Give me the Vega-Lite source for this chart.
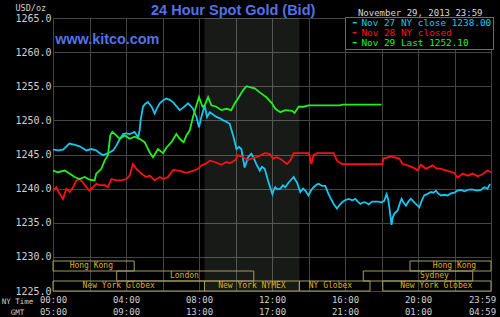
{
  "$schema": "https://vega.github.io/schema/vega-lite/v6.json",
  "width": 438,
  "height": 273,
  "autosize": {"type": "none"},
  "padding": {"left": 53, "top": 18, "right": 9, "bottom": 26},
  "background": "#000000",
  "config": {"view": {"stroke": null}},
  "title": {
    "text": "24 Hour Spot Gold (Bid)",
    "anchor": "start",
    "frame": "group",
    "dx": 98,
    "dy": 26,
    "offset": 0,
    "baseline": "alphabetic",
    "font": "Liberation Sans",
    "fontSize": 14.5,
    "fontWeight": "bold",
    "color": "#5272e6"
  },
  "datasets": {
    "prices": [
      {"series": "Nov 27", "hour": 0.0, "price": 1245.7},
      {"series": "Nov 27", "hour": 0.3, "price": 1245.6},
      {"series": "Nov 27", "hour": 0.55, "price": 1245.7},
      {"series": "Nov 27", "hour": 0.9, "price": 1246.6},
      {"series": "Nov 27", "hour": 1.2, "price": 1246.4},
      {"series": "Nov 27", "hour": 1.46, "price": 1246.2},
      {"series": "Nov 27", "hour": 1.83, "price": 1245.6},
      {"series": "Nov 27", "hour": 2.1, "price": 1245.8},
      {"series": "Nov 27", "hour": 2.37, "price": 1245.6},
      {"series": "Nov 27", "hour": 2.56, "price": 1245.2},
      {"series": "Nov 27", "hour": 2.75, "price": 1244.9},
      {"series": "Nov 27", "hour": 3.1, "price": 1245.3},
      {"series": "Nov 27", "hour": 3.3, "price": 1245.6},
      {"series": "Nov 27", "hour": 3.47, "price": 1246.3},
      {"series": "Nov 27", "hour": 3.65, "price": 1247.2},
      {"series": "Nov 27", "hour": 3.84, "price": 1248.0},
      {"series": "Nov 27", "hour": 4.0, "price": 1248.1},
      {"series": "Nov 27", "hour": 4.2, "price": 1248.0},
      {"series": "Nov 27", "hour": 4.47, "price": 1248.3},
      {"series": "Nov 27", "hour": 4.66, "price": 1247.5},
      {"series": "Nov 27", "hour": 4.75, "price": 1248.6},
      {"series": "Nov 27", "hour": 4.8, "price": 1250.0},
      {"series": "Nov 27", "hour": 4.93, "price": 1252.0},
      {"series": "Nov 27", "hour": 5.05, "price": 1252.4},
      {"series": "Nov 27", "hour": 5.2, "price": 1252.7},
      {"series": "Nov 27", "hour": 5.4, "price": 1252.0},
      {"series": "Nov 27", "hour": 5.57, "price": 1251.0},
      {"series": "Nov 27", "hour": 5.7, "price": 1251.8},
      {"series": "Nov 27", "hour": 5.85, "price": 1252.5},
      {"series": "Nov 27", "hour": 6.03, "price": 1252.9},
      {"series": "Nov 27", "hour": 6.2, "price": 1253.2},
      {"series": "Nov 27", "hour": 6.4, "price": 1253.0},
      {"series": "Nov 27", "hour": 6.6, "price": 1252.6},
      {"series": "Nov 27", "hour": 6.94, "price": 1251.5},
      {"series": "Nov 27", "hour": 7.15, "price": 1251.9},
      {"series": "Nov 27", "hour": 7.4, "price": 1252.5},
      {"series": "Nov 27", "hour": 7.55, "price": 1252.1},
      {"series": "Nov 27", "hour": 7.67, "price": 1251.7},
      {"series": "Nov 27", "hour": 7.86, "price": 1250.5},
      {"series": "Nov 27", "hour": 8.0, "price": 1249.0},
      {"series": "Nov 27", "hour": 8.13, "price": 1250.5},
      {"series": "Nov 27", "hour": 8.31, "price": 1252.2},
      {"series": "Nov 27", "hour": 8.44, "price": 1250.5},
      {"series": "Nov 27", "hour": 8.59, "price": 1251.2},
      {"series": "Nov 27", "hour": 8.75, "price": 1250.9},
      {"series": "Nov 27", "hour": 8.95, "price": 1250.5},
      {"series": "Nov 27", "hour": 9.15, "price": 1250.3},
      {"series": "Nov 27", "hour": 9.32, "price": 1250.0},
      {"series": "Nov 27", "hour": 9.5, "price": 1249.8},
      {"series": "Nov 27", "hour": 9.68, "price": 1249.5},
      {"series": "Nov 27", "hour": 9.87, "price": 1247.8},
      {"series": "Nov 27", "hour": 10.05, "price": 1245.8},
      {"series": "Nov 27", "hour": 10.2, "price": 1246.1},
      {"series": "Nov 27", "hour": 10.32, "price": 1245.8},
      {"series": "Nov 27", "hour": 10.5, "price": 1243.1},
      {"series": "Nov 27", "hour": 10.69, "price": 1244.6},
      {"series": "Nov 27", "hour": 10.87, "price": 1245.1},
      {"series": "Nov 27", "hour": 11.0, "price": 1244.5},
      {"series": "Nov 27", "hour": 11.14, "price": 1243.6},
      {"series": "Nov 27", "hour": 11.33, "price": 1242.65},
      {"series": "Nov 27", "hour": 11.45, "price": 1243.2},
      {"series": "Nov 27", "hour": 11.6, "price": 1242.9},
      {"series": "Nov 27", "hour": 11.78, "price": 1241.2},
      {"series": "Nov 27", "hour": 11.9, "price": 1240.2},
      {"series": "Nov 27", "hour": 12.02, "price": 1239.2},
      {"series": "Nov 27", "hour": 12.1, "price": 1239.8},
      {"series": "Nov 27", "hour": 12.18, "price": 1240.2},
      {"series": "Nov 27", "hour": 12.3, "price": 1239.9},
      {"series": "Nov 27", "hour": 12.46, "price": 1240.0},
      {"series": "Nov 27", "hour": 12.6, "price": 1240.5},
      {"series": "Nov 27", "hour": 12.73, "price": 1240.2},
      {"series": "Nov 27", "hour": 12.91, "price": 1240.9},
      {"series": "Nov 27", "hour": 13.05, "price": 1241.3},
      {"series": "Nov 27", "hour": 13.19, "price": 1241.7},
      {"series": "Nov 27", "hour": 13.3, "price": 1241.2},
      {"series": "Nov 27", "hour": 13.37, "price": 1240.9},
      {"series": "Nov 27", "hour": 13.55, "price": 1239.5},
      {"series": "Nov 27", "hour": 13.7, "price": 1240.0},
      {"series": "Nov 27", "hour": 13.83, "price": 1239.7},
      {"series": "Nov 27", "hour": 14.0, "price": 1239.0},
      {"series": "Nov 27", "hour": 14.15, "price": 1239.8},
      {"series": "Nov 27", "hour": 14.28, "price": 1240.2},
      {"series": "Nov 27", "hour": 14.45, "price": 1240.6},
      {"series": "Nov 27", "hour": 14.56, "price": 1240.7},
      {"series": "Nov 27", "hour": 14.74, "price": 1240.4},
      {"series": "Nov 27", "hour": 14.92, "price": 1240.4},
      {"series": "Nov 27", "hour": 15.1, "price": 1239.2},
      {"series": "Nov 27", "hour": 15.25, "price": 1238.4},
      {"series": "Nov 27", "hour": 15.38, "price": 1237.75},
      {"series": "Nov 27", "hour": 15.56, "price": 1237.1},
      {"series": "Nov 27", "hour": 15.7, "price": 1237.6},
      {"series": "Nov 27", "hour": 15.84, "price": 1238.0},
      {"series": "Nov 27", "hour": 16.0, "price": 1238.3},
      {"series": "Nov 27", "hour": 16.2, "price": 1238.5},
      {"series": "Nov 27", "hour": 16.4, "price": 1238.3},
      {"series": "Nov 27", "hour": 16.57, "price": 1238.5},
      {"series": "Nov 27", "hour": 16.7, "price": 1238.1},
      {"series": "Nov 27", "hour": 16.84, "price": 1237.75},
      {"series": "Nov 27", "hour": 17.0, "price": 1238.0},
      {"series": "Nov 27", "hour": 17.11, "price": 1238.0},
      {"series": "Nov 27", "hour": 17.3, "price": 1237.7},
      {"series": "Nov 27", "hour": 17.48, "price": 1238.1},
      {"series": "Nov 27", "hour": 17.8, "price": 1238.1},
      {"series": "Nov 27", "hour": 18.0, "price": 1238.0},
      {"series": "Nov 27", "hour": 18.15, "price": 1238.2},
      {"series": "Nov 27", "hour": 18.28, "price": 1239.2},
      {"series": "Nov 27", "hour": 18.36, "price": 1238.5},
      {"series": "Nov 27", "hour": 18.43, "price": 1237.25},
      {"series": "Nov 27", "hour": 18.55, "price": 1234.7},
      {"series": "Nov 27", "hour": 18.62, "price": 1235.8},
      {"series": "Nov 27", "hour": 18.7, "price": 1236.3},
      {"series": "Nov 27", "hour": 18.88, "price": 1236.8},
      {"series": "Nov 27", "hour": 19.0, "price": 1237.8},
      {"series": "Nov 27", "hour": 19.1, "price": 1238.5},
      {"series": "Nov 27", "hour": 19.2, "price": 1238.0},
      {"series": "Nov 27", "hour": 19.34, "price": 1237.5},
      {"series": "Nov 27", "hour": 19.5, "price": 1238.2},
      {"series": "Nov 27", "hour": 19.61, "price": 1238.5},
      {"series": "Nov 27", "hour": 19.8, "price": 1238.0},
      {"series": "Nov 27", "hour": 19.95, "price": 1237.6},
      {"series": "Nov 27", "hour": 20.07, "price": 1237.25},
      {"series": "Nov 27", "hour": 20.2, "price": 1238.2},
      {"series": "Nov 27", "hour": 20.34, "price": 1239.0},
      {"series": "Nov 27", "hour": 20.5, "price": 1239.2},
      {"series": "Nov 27", "hour": 20.71, "price": 1239.5},
      {"series": "Nov 27", "hour": 20.85, "price": 1239.4},
      {"series": "Nov 27", "hour": 20.98, "price": 1239.7},
      {"series": "Nov 27", "hour": 21.1, "price": 1239.3},
      {"series": "Nov 27", "hour": 21.26, "price": 1239.0},
      {"series": "Nov 27", "hour": 21.45, "price": 1239.1},
      {"series": "Nov 27", "hour": 21.62, "price": 1239.0},
      {"series": "Nov 27", "hour": 21.8, "price": 1239.3},
      {"series": "Nov 27", "hour": 21.99, "price": 1239.4},
      {"series": "Nov 27", "hour": 22.15, "price": 1239.7},
      {"series": "Nov 27", "hour": 22.35, "price": 1239.8},
      {"series": "Nov 27", "hour": 22.55, "price": 1239.6},
      {"series": "Nov 27", "hour": 22.72, "price": 1239.8},
      {"series": "Nov 27", "hour": 22.9, "price": 1239.9},
      {"series": "Nov 27", "hour": 23.08, "price": 1239.8},
      {"series": "Nov 27", "hour": 23.25, "price": 1239.7},
      {"series": "Nov 27", "hour": 23.45, "price": 1239.8},
      {"series": "Nov 27", "hour": 23.63, "price": 1240.2},
      {"series": "Nov 27", "hour": 23.81, "price": 1240.0},
      {"series": "Nov 27", "hour": 23.95, "price": 1240.7},
      {"series": "Nov 28", "hour": 0.0, "price": 1239.7},
      {"series": "Nov 28", "hour": 0.18, "price": 1240.2},
      {"series": "Nov 28", "hour": 0.37, "price": 1239.2},
      {"series": "Nov 28", "hour": 0.55, "price": 1238.5},
      {"series": "Nov 28", "hour": 0.73, "price": 1240.0},
      {"series": "Nov 28", "hour": 0.91, "price": 1239.5},
      {"series": "Nov 28", "hour": 1.1, "price": 1240.2},
      {"series": "Nov 28", "hour": 1.28, "price": 1241.2},
      {"series": "Nov 28", "hour": 1.46, "price": 1241.4},
      {"series": "Nov 28", "hour": 1.64, "price": 1240.9},
      {"series": "Nov 28", "hour": 1.83, "price": 1240.2},
      {"series": "Nov 28", "hour": 2.0, "price": 1239.7},
      {"series": "Nov 28", "hour": 2.19, "price": 1240.2},
      {"series": "Nov 28", "hour": 2.37, "price": 1240.7},
      {"series": "Nov 28", "hour": 2.56, "price": 1240.5},
      {"series": "Nov 28", "hour": 2.83, "price": 1240.5},
      {"series": "Nov 28", "hour": 3.01, "price": 1240.2},
      {"series": "Nov 28", "hour": 3.2, "price": 1241.4},
      {"series": "Nov 28", "hour": 3.47, "price": 1241.2},
      {"series": "Nov 28", "hour": 3.74, "price": 1241.2},
      {"series": "Nov 28", "hour": 4.02, "price": 1241.4},
      {"series": "Nov 28", "hour": 4.2, "price": 1241.9},
      {"series": "Nov 28", "hour": 4.38, "price": 1243.6},
      {"series": "Nov 28", "hour": 4.57, "price": 1242.9},
      {"series": "Nov 28", "hour": 4.84, "price": 1242.2},
      {"series": "Nov 28", "hour": 5.11, "price": 1241.7},
      {"series": "Nov 28", "hour": 5.3, "price": 1241.9},
      {"series": "Nov 28", "hour": 5.57, "price": 1241.2},
      {"series": "Nov 28", "hour": 5.85, "price": 1241.7},
      {"series": "Nov 28", "hour": 6.03, "price": 1241.4},
      {"series": "Nov 28", "hour": 6.3, "price": 1241.7},
      {"series": "Nov 28", "hour": 6.58, "price": 1242.75},
      {"series": "Nov 28", "hour": 6.94, "price": 1242.6},
      {"series": "Nov 28", "hour": 7.31, "price": 1242.3},
      {"series": "Nov 28", "hour": 7.67, "price": 1242.6},
      {"series": "Nov 28", "hour": 7.95, "price": 1242.9},
      {"series": "Nov 28", "hour": 8.13, "price": 1243.4},
      {"series": "Nov 28", "hour": 8.4, "price": 1243.7},
      {"series": "Nov 28", "hour": 8.59, "price": 1244.1},
      {"series": "Nov 28", "hour": 8.86, "price": 1243.9},
      {"series": "Nov 28", "hour": 9.23, "price": 1243.5},
      {"series": "Nov 28", "hour": 9.5, "price": 1243.9},
      {"series": "Nov 28", "hour": 9.68, "price": 1243.7},
      {"series": "Nov 28", "hour": 9.96, "price": 1244.1},
      {"series": "Nov 28", "hour": 10.14, "price": 1244.9},
      {"series": "Nov 28", "hour": 10.41, "price": 1244.6},
      {"series": "Nov 28", "hour": 10.69, "price": 1244.2},
      {"series": "Nov 28", "hour": 10.96, "price": 1244.5},
      {"series": "Nov 28", "hour": 11.24, "price": 1244.7},
      {"series": "Nov 28", "hour": 11.6, "price": 1245.2},
      {"series": "Nov 28", "hour": 11.88, "price": 1245.1},
      {"series": "Nov 28", "hour": 12.05, "price": 1244.4},
      {"series": "Nov 28", "hour": 12.27, "price": 1244.6},
      {"series": "Nov 28", "hour": 12.55, "price": 1244.2},
      {"series": "Nov 28", "hour": 12.82, "price": 1243.6},
      {"series": "Nov 28", "hour": 13.0, "price": 1244.1},
      {"series": "Nov 28", "hour": 13.19, "price": 1245.2},
      {"series": "Nov 28", "hour": 14.0, "price": 1245.2},
      {"series": "Nov 28", "hour": 14.08, "price": 1244.6},
      {"series": "Nov 28", "hour": 14.16, "price": 1243.6},
      {"series": "Nov 28", "hour": 14.28, "price": 1244.9},
      {"series": "Nov 28", "hour": 14.47, "price": 1245.2},
      {"series": "Nov 28", "hour": 15.38, "price": 1245.2},
      {"series": "Nov 28", "hour": 15.56, "price": 1244.1},
      {"series": "Nov 28", "hour": 15.84, "price": 1243.6},
      {"series": "Nov 28", "hour": 18.05, "price": 1243.6},
      {"series": "Nov 28", "hour": 18.1, "price": 1244.4},
      {"series": "Nov 28", "hour": 18.52, "price": 1244.7},
      {"series": "Nov 28", "hour": 18.97, "price": 1244.4},
      {"series": "Nov 28", "hour": 19.16, "price": 1243.6},
      {"series": "Nov 28", "hour": 19.43, "price": 1243.4},
      {"series": "Nov 28", "hour": 19.8, "price": 1243.0},
      {"series": "Nov 28", "hour": 19.98, "price": 1242.65},
      {"series": "Nov 28", "hour": 20.16, "price": 1243.5},
      {"series": "Nov 28", "hour": 20.44, "price": 1242.9},
      {"series": "Nov 28", "hour": 20.8, "price": 1243.4},
      {"series": "Nov 28", "hour": 20.98, "price": 1243.0},
      {"series": "Nov 28", "hour": 21.26, "price": 1242.9},
      {"series": "Nov 28", "hour": 21.62, "price": 1242.6},
      {"series": "Nov 28", "hour": 21.99, "price": 1242.3},
      {"series": "Nov 28", "hour": 22.17, "price": 1241.6},
      {"series": "Nov 28", "hour": 22.45, "price": 1242.2},
      {"series": "Nov 28", "hour": 22.72, "price": 1241.9},
      {"series": "Nov 28", "hour": 23.0, "price": 1242.2},
      {"series": "Nov 28", "hour": 23.27, "price": 1241.8},
      {"series": "Nov 28", "hour": 23.54, "price": 1242.1},
      {"series": "Nov 28", "hour": 23.81, "price": 1242.65},
      {"series": "Nov 28", "hour": 24.0, "price": 1242.4},
      {"series": "Nov 29", "hour": 0.0, "price": 1242.65},
      {"series": "Nov 29", "hour": 0.27, "price": 1242.4},
      {"series": "Nov 29", "hour": 0.64, "price": 1242.65},
      {"series": "Nov 29", "hour": 0.91, "price": 1242.2},
      {"series": "Nov 29", "hour": 1.19, "price": 1241.7},
      {"series": "Nov 29", "hour": 1.46, "price": 1241.4},
      {"series": "Nov 29", "hour": 1.74, "price": 1241.7},
      {"series": "Nov 29", "hour": 2.0, "price": 1241.3},
      {"series": "Nov 29", "hour": 2.28, "price": 1241.2},
      {"series": "Nov 29", "hour": 2.37, "price": 1242.2},
      {"series": "Nov 29", "hour": 2.65, "price": 1242.9},
      {"series": "Nov 29", "hour": 2.83, "price": 1244.1},
      {"series": "Nov 29", "hour": 3.01, "price": 1244.9},
      {"series": "Nov 29", "hour": 3.14, "price": 1247.8},
      {"series": "Nov 29", "hour": 3.25, "price": 1248.3},
      {"series": "Nov 29", "hour": 3.47, "price": 1247.8},
      {"series": "Nov 29", "hour": 3.65, "price": 1247.3},
      {"series": "Nov 29", "hour": 3.93, "price": 1247.8},
      {"series": "Nov 29", "hour": 4.2, "price": 1247.3},
      {"series": "Nov 29", "hour": 4.47, "price": 1247.6},
      {"series": "Nov 29", "hour": 4.75, "price": 1247.3},
      {"series": "Nov 29", "hour": 5.02, "price": 1246.8},
      {"series": "Nov 29", "hour": 5.3, "price": 1245.3},
      {"series": "Nov 29", "hour": 5.48, "price": 1244.6},
      {"series": "Nov 29", "hour": 5.75, "price": 1245.8},
      {"series": "Nov 29", "hour": 6.03, "price": 1245.2},
      {"series": "Nov 29", "hour": 6.21, "price": 1246.0},
      {"series": "Nov 29", "hour": 6.49, "price": 1246.8},
      {"series": "Nov 29", "hour": 6.76, "price": 1248.0},
      {"series": "Nov 29", "hour": 6.94, "price": 1247.3},
      {"series": "Nov 29", "hour": 7.16, "price": 1246.8},
      {"series": "Nov 29", "hour": 7.31, "price": 1247.8},
      {"series": "Nov 29", "hour": 7.49, "price": 1248.5},
      {"series": "Nov 29", "hour": 7.67, "price": 1250.5},
      {"series": "Nov 29", "hour": 7.86, "price": 1252.2},
      {"series": "Nov 29", "hour": 8.0, "price": 1253.4},
      {"series": "Nov 29", "hour": 8.19, "price": 1252.0},
      {"series": "Nov 29", "hour": 8.31, "price": 1252.2},
      {"series": "Nov 29", "hour": 8.5, "price": 1253.4},
      {"series": "Nov 29", "hour": 8.68, "price": 1252.2},
      {"series": "Nov 29", "hour": 8.95, "price": 1252.0},
      {"series": "Nov 29", "hour": 9.23, "price": 1251.5},
      {"series": "Nov 29", "hour": 9.5, "price": 1251.7},
      {"series": "Nov 29", "hour": 9.77, "price": 1251.5},
      {"series": "Nov 29", "hour": 9.96, "price": 1252.5},
      {"series": "Nov 29", "hour": 10.14, "price": 1253.2},
      {"series": "Nov 29", "hour": 10.41, "price": 1254.4},
      {"series": "Nov 29", "hour": 10.6, "price": 1255.0},
      {"series": "Nov 29", "hour": 10.87, "price": 1254.8},
      {"series": "Nov 29", "hour": 11.05, "price": 1254.7},
      {"series": "Nov 29", "hour": 11.33, "price": 1254.1},
      {"series": "Nov 29", "hour": 11.69, "price": 1253.4},
      {"series": "Nov 29", "hour": 12.0, "price": 1252.5},
      {"series": "Nov 29", "hour": 12.18, "price": 1251.7},
      {"series": "Nov 29", "hour": 12.46, "price": 1251.2},
      {"series": "Nov 29", "hour": 12.73, "price": 1251.5},
      {"series": "Nov 29", "hour": 13.1, "price": 1251.4},
      {"series": "Nov 29", "hour": 13.24, "price": 1251.1},
      {"series": "Nov 29", "hour": 13.46, "price": 1252.0},
      {"series": "Nov 29", "hour": 13.74, "price": 1252.0},
      {"series": "Nov 29", "hour": 14.0, "price": 1252.2},
      {"series": "Nov 29", "hour": 15.74, "price": 1252.2},
      {"series": "Nov 29", "hour": 15.87, "price": 1252.3},
      {"series": "Nov 29", "hour": 18.0, "price": 1252.3}
    ],
    "sessions": [
      {"name": "Hong Kong", "lane": 1, "start": 0, "end": 4.45, "labelAt": 2.1},
      {"name": "Hong Kong", "lane": 1, "start": 19.56, "end": 24, "labelAt": 22.0},
      {"name": "London", "lane": 2, "start": 3.49, "end": 11.0, "labelAt": 7.2},
      {"name": "Sydney", "lane": 2, "start": 17.0, "end": 23.0, "labelAt": 20.9},
      {"name": "New York Globex", "lane": 3, "start": 0, "end": 8.3, "labelAt": 3.6},
      {"name": "New York NYMEX", "lane": 3, "start": 8.3, "end": 13.5, "labelAt": 10.9},
      {"name": "NY Globex", "lane": 3, "start": 13.5, "end": 17.37, "labelAt": 15.2},
      {"name": "New York Globex", "lane": 3, "start": 18.07, "end": 24, "labelAt": 21.0}
    ]
  },
  "layer": [
    {
      "data": {"name": "sessions"},
      "transform": [{"filter": "datum.name == 'New York NYMEX'"}],
      "mark": {"type": "rect", "fill": "#e0ffe0", "fillOpacity": 0.1},
      "encoding": {
        "x": {
          "field": "start",
          "type": "quantitative",
          "scale": {"domain": [0, 24], "nice": false},
          "axis": {
            "orient": "top",
            "title": "November 29, 2013 23:59",
            "labels": false,
            "ticks": false,
            "domain": false,
            "grid": false,
            "titleX": 429,
            "titleY": -3,
            "titleAlign": "right",
            "titleBaseline": "alphabetic",
            "titleFont": "DejaVu Sans Mono",
            "titleFontSize": 9,
            "titleFontWeight": "normal",
            "titleColor": "#d8d8d8"
          }
        },
        "x2": {"field": "end"}
      }
    },
    {
      "data": {"name": "prices"},
      "mark": {"type": "line", "strokeWidth": 1.8, "interpolate": "linear"},
      "encoding": {
        "x": {
          "field": "hour",
          "type": "quantitative",
          "scale": {"domain": [0, 24], "nice": false},
          "axis": {
            "values": [0, 2, 4, 6, 8, 10, 12, 14, 16, 18, 20, 22, 24],
            "labelExpr": "datum.value == 24 ? ['23:59', '04:59'] : datum.value % 4 == 0 ? [(datum.value < 10 ? '0' : '') + datum.value + ':00', ((datum.value + 5) % 24 < 10 ? '0' : '') + ((datum.value + 5) % 24) + ':00'] : ''",
            "grid": true,
            "gridColor": "#444444",
            "ticks": false,
            "domain": false,
            "labelFont": "DejaVu Sans Mono",
            "labelFontSize": 9,
            "labelColor": "#d0d0d0",
            "labelPadding": 4,
            "labelLineHeight": 12,
            "labelBaseline": "top",
            "labelAlign": "center",
            "labelOverlap": false,
            "labelFlush": false,
            "labelOffset": {"condition": {"test": "datum.value == 24", "value": -9}, "value": 0},
            "title": ["NY Time", "GMT"],
            "titleX": -36,
            "titleY": 6,
            "titleAlign": "center",
            "titleBaseline": "top",
            "titleFont": "DejaVu Sans Mono",
            "titleFontSize": 7.5,
            "titleFontWeight": "normal",
            "titleColor": "#d0d0d0",
            "titleLineHeight": 11.5
          }
        },
        "y": {
          "field": "price",
          "type": "quantitative",
          "scale": {"domain": [1225, 1265], "nice": false, "zero": false},
          "axis": {
            "values": [1225, 1230, 1235, 1240, 1245, 1250, 1255, 1260, 1265],
            "format": ".1f",
            "grid": true,
            "gridColor": "#444444",
            "ticks": false,
            "domain": false,
            "labelOverlap": false,
            "labelFont": "DejaVu Sans Mono",
            "labelFontSize": 10,
            "labelColor": "#d0d0d0",
            "labelPadding": 2,
            "title": "USD/oz",
            "titleAngle": 0,
            "titleX": -38,
            "titleY": -11,
            "titleAlign": "left",
            "titleBaseline": "middle",
            "titleFont": "DejaVu Sans Mono",
            "titleFontSize": 8.5,
            "titleFontWeight": "normal",
            "titleColor": "#d0d0d0"
          }
        },
        "color": {
          "field": "series",
          "type": "nominal",
          "scale": {"domain": ["Nov 27", "Nov 28", "Nov 29"], "range": ["#10c8f0", "#ff1010", "#20f020"]},
          "legend": {
            "orient": "none",
            "legendX": 292,
            "legendY": -1,
            "direction": "vertical",
            "title": null,
            "fillColor": "#000000",
            "strokeColor": "#6a6a6a",
            "padding": 1,
            "symbolType": "stroke",
            "symbolSize": 16,
            "symbolStrokeWidth": 1.5,
            "symbolOffset": 4,
            "labelOffset": 2,
            "rowPadding": -1,
            "labelFont": "DejaVu Sans Mono",
            "labelFontSize": 9.4,
            "labelColor": {"expr": "datum.value == 'Nov 27' ? '#10c8f0' : datum.value == 'Nov 28' ? '#ff1010' : '#20f020'"},
            "labelExpr": "datum.value == 'Nov 27' ? 'Nov 27 NY close 1238.00' : datum.value == 'Nov 28' ? 'Nov 28 NY closed' : 'Nov 29 Last 1252.10'"
          }
        }
      }
    },
    {
      "data": {"values": [{"site": "www.kitco.com"}]},
      "mark": {"type": "text", "align": "left", "baseline": "alphabetic", "font": "Liberation Sans", "fontSize": 14.4, "fontWeight": "bold", "color": "#5272e6"},
      "encoding": {
        "x": {"datum": 0.12, "type": "quantitative", "axis": null},
        "y": {"datum": 1261.25, "type": "quantitative", "scale": {"domain": [1225, 1265], "nice": false, "zero": false}, "axis": null},
        "text": {"field": "site"}
      }
    },
    {
      "data": {"name": "sessions"},
      "layer": [
        {
          "mark": {"type": "bar", "fill": "#000000", "fillOpacity": 0, "stroke": "#a49c60", "strokeWidth": 1},
          "encoding": {
            "x": {"field": "start", "type": "quantitative", "axis": null},
            "x2": {"field": "end"},
            "y": {
              "field": "lane",
              "type": "ordinal",
              "scale": {"domain": [1, 2, 3], "range": [{"expr": "height - 30"}, {"expr": "height"}], "paddingInner": 0, "paddingOuter": 0},
              "axis": null
            }
          }
        },
        {
          "mark": {"type": "text", "align": "center", "baseline": "middle", "font": "DejaVu Sans Mono", "fontSize": 8, "color": "#dcb400"},
          "encoding": {
            "x": {"field": "labelAt", "type": "quantitative", "axis": null},
            "y": {"field": "lane", "type": "ordinal", "axis": null},
            "text": {"field": "name"}
          }
        }
      ]
    }
  ],
  "resolve": {"scale": {"y": "independent"}, "axis": {"x": "independent", "y": "independent"}}
}
